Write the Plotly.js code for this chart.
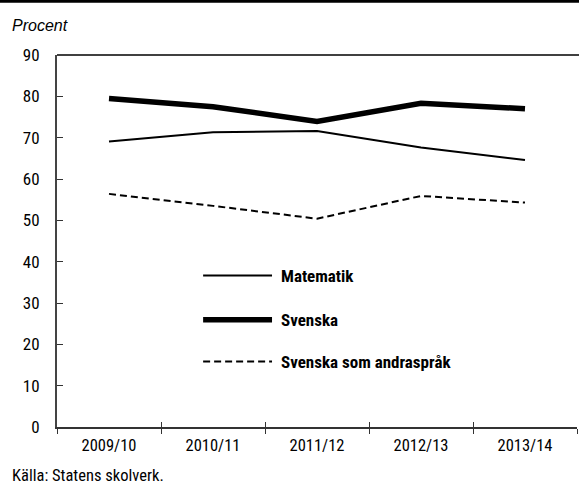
<!DOCTYPE html>
<html>
<head>
<meta charset="utf-8">
<script src="https://cdn.plot.ly/plotly-3.0.1.min.js"></script>
<style>html,body{margin:0;padding:0;background:#fff;}#chart{width:579px;height:484px;}</style>
</head>
<body>
<div id="chart"></div>
<script>
const categories = ["2009/10", "2010/11", "2011/12", "2012/13", "2013/14"];
const seriesNames = ["Matematik", "Svenska", "Svenska som andraspråk"];
const matematik = [69.1, 71.3, 71.6, 67.6, 64.6];
const svenska = [79.5, 77.5, 73.9, 78.3, 77.0];
const svenskaAndrasprak = [56.4, 53.5, 50.4, 55.9, 54.3];
const yTicks = [0, 10, 20, 30, 40, 50, 60, 70, 80, 90];

const FONT = '"Liberation Sans Narrow", "Arial Narrow", "Roboto Condensed", "DejaVu Sans Condensed", Arial, sans-serif';
const styles = [
  {width: 2, dash: 'solid'},
  {width: 5.5, dash: 'solid'},
  {width: 2, dash: '7px,4px'}
];
const values = [matematik, svenska, svenskaAndrasprak];

const traces = values.map((v, i) => ({
  type: 'scatter', mode: 'lines', x: categories, y: v, name: seriesNames[i],
  line: {color: '#000', width: styles[i].width, dash: styles[i].dash},
  showlegend: false, hoverinfo: 'skip'
}));
traces.push({type: 'scatter', mode: 'lines', x: categories, y: categories.map(() => null),
  xaxis: 'x2', showlegend: false, hoverinfo: 'skip'});

// custom legend (paper coordinates)
const legendRows = [0.407, 0.288, 0.176];
const shapes = [
  {type: 'rect', xref: 'paper', yref: 'paper', x0: -0.2, x1: 1.1, y0: 1.1407, y1: 1.17, fillcolor: '#000', line: {width: 0}},
  {type: 'line', xref: 'paper', yref: 'paper', x0: 0, x1: 1.01, y0: 1, y1: 1, line: {color: '#000', width: 1.5}}
];
const annotations = [
  {xref: 'paper', yref: 'paper', x: -0.0904, y: 1.08, xanchor: 'left', yanchor: 'middle', showarrow: false,
   text: 'Procent', font: {family: 'Liberation Sans, Arial, sans-serif', size: 16, color: '#000', style: 'italic'}},
  {xref: 'paper', yref: 'paper', x: -0.0904, y: -0.131, xanchor: 'left', yanchor: 'middle', showarrow: false,
   text: 'Källa: Statens skolverk.', font: {family: FONT, size: 16.5, color: '#000'}}
];
seriesNames.forEach((n, i) => {
  shapes.push({type: 'line', xref: 'paper', yref: 'paper', x0: 0.281, x1: 0.4135, y0: legendRows[i], y1: legendRows[i],
    line: {color: '#000', width: styles[i].width, dash: styles[i].dash}});
  annotations.push({xref: 'paper', yref: 'paper', x: 0.427, y: legendRows[i], xanchor: 'left', yanchor: 'middle',
    showarrow: false, text: '<b>' + n + '</b>', font: {family: FONT, size: 17, color: '#000'}});
});

const layout = {
  width: 579, height: 484,
  margin: {l: 57, r: 2, t: 55, b: 57},
  paper_bgcolor: '#fff', plot_bgcolor: '#fff',
  showlegend: false,
  font: {family: FONT, size: 17, color: '#000'},
  xaxis: {
    type: 'category', categoryarray: categories, range: [-0.5, 4.5],
    showline: true, linecolor: '#333', linewidth: 2, showgrid: false, zeroline: false,
    ticks: 'outside', ticklen: 5, tickwidth: 1, tickcolor: '#333', tickson: 'boundaries',
    tickfont: {family: FONT, size: 16.5, color: '#000'}, ticklabelstandoff: 2
  },
  xaxis2: {
    type: 'category', categoryarray: categories, range: [-0.5, 4.5], overlaying: 'x',
    showline: false, showgrid: false, zeroline: false, showticklabels: false,
    ticks: 'inside', ticklen: 5, tickwidth: 1, tickcolor: '#333', tickson: 'boundaries'
  },
  yaxis: {
    range: [0, 90], tickvals: yTicks, ticktext: yTicks.map(String),
    showline: true, linecolor: '#444', linewidth: 2, showgrid: false, zeroline: false,
    ticks: 'inside', ticklen: 6, tickwidth: 1, tickcolor: '#333',
    tickfont: {family: FONT, size: 17, color: '#000'}, ticklabelstandoff: 12
  },
  shapes: shapes,
  annotations: annotations
};

Plotly.newPlot('chart', traces, layout, {displayModeBar: false, staticPlot: true});
</script>
</body>
</html>
